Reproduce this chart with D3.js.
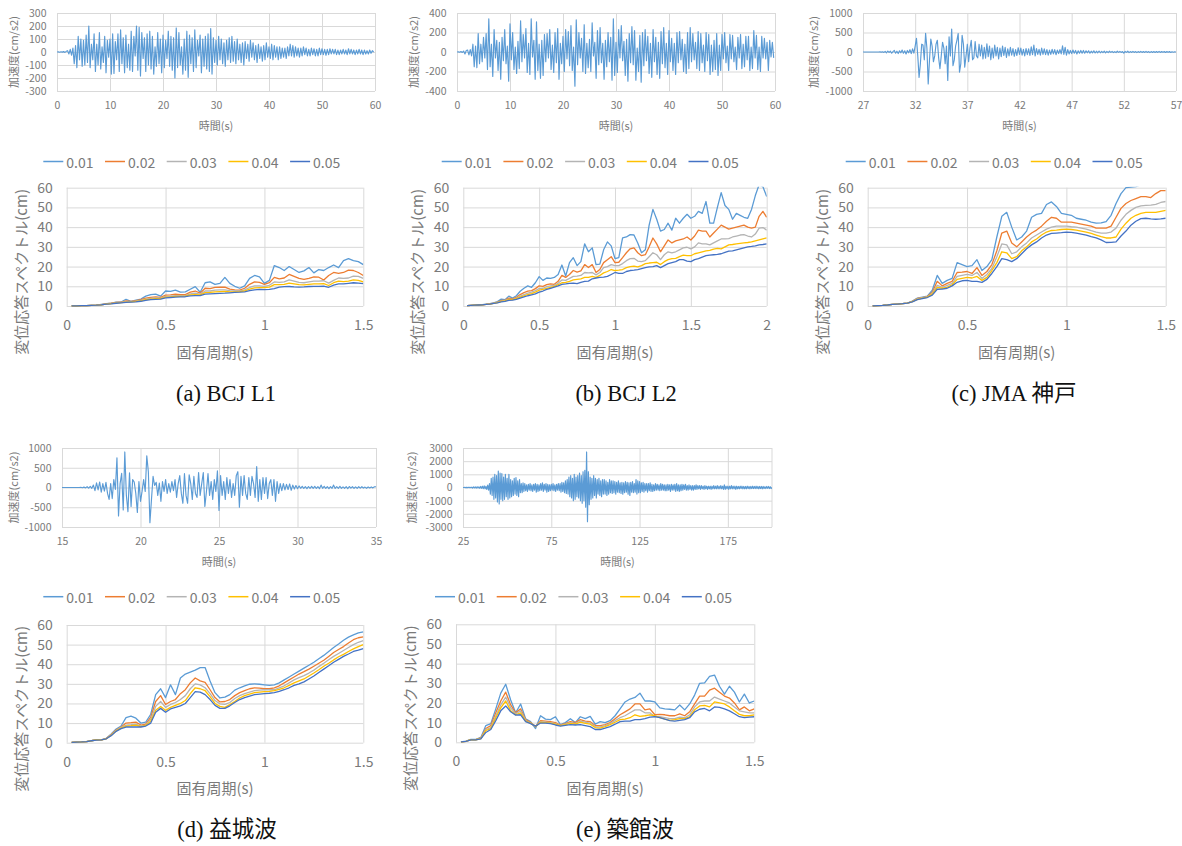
<!DOCTYPE html>
<html>
<head>
<meta charset="utf-8">
<script src="https://cdn.jsdelivr.net/npm/d3@7"></script>
<style>
  body { margin: 0; background: #fff; }
  svg text { font-family: "Noto Sans CJK JP", "Noto Sans", sans-serif; fill: #7a7a7a; }
  svg text.caption { font-family: "Liberation Serif", "Noto Sans CJK JP", serif; fill: #111; font-size: 22.5px; }
</style>
</head>
<body>
<svg id="fig" width="1182" height="846"></svg>
<script>
// ---------------- labels ----------------
const dampingLabels = ["0.01", "0.02", "0.03", "0.04", "0.05"];
const dampingColors = ["#5b9bd5", "#ed7d31", "#b4b4b4", "#ffc000", "#4472c4"];
const captions = ["(a) BCJ L1", "(b) BCJ L2", "(c) JMA 神戸", "(d) 益城波", "(e) 築館波"];
const accelTitle = "加速度(cm/s2)";
const timeTitle = "時間(s)";
const specTitle = "変位応答スペクトル(cm)";
const periodTitle = "固有周期(s)";

// ---------------- acceleration records (cm/s2) ----------------
// BCJ L1, sampled every 0.25 s from 0 s
const accelA_t0 = 0, accelA_dt = 0.25;
const accelA = [
  0,1,-2,2,-1,3,-3,5,
  10,-15,20,-25, 30,-90,50,-120, 120,-60,100,-110, 90,-100,130,-80,
  200,-120,60,-60, 140,-150,60,-100, 150,-130,40,-80, 120,-160,90,-40,
  100,-170,140,-165, 80,-60,140,-150, 170,-90,110,-160, 130,-120,60,-140,
  160,-150,120,-30, 200,-140,190,-185, 150,-50,110,-150, 140,-100,160,-130,
  120,-170,40,-110, 150,-90,100,-160, 130,-120,90,-50, 160,-110,120,-140,
  110,-200,185,-120, 150,-100,40,-170, 100,-140,160,-195, 130,-90,110,-150,
  170,-120,90,-30, 130,-160,100,-110, 120,-130,140,-150, 180,-170,110,-80,
  90,-100,120,-60, 100,-90,70,-110, 90,-60,110,-80, 120,-70,80,-90,
  100,-60,60,-80, 70,-100,80,-50, 60,-70,90,-40, 70,-60,50,-80,
  60,-50,40,-70, 50,-60,70,-40, 40,-50,60,-60, 50,-40,40,-60,
  40,-50,30,-40, 30,-50,40,-30, 60,-30,50,-40, 40,-30,30,-40,
  30,-30,40,-20, 30,-30,20,-30, 30,-20,25,-30, 20,-30,30,-20,
  25,-20,20,-25, 20,-20,25,-15, 20,-15,20,-20, 15,-20,15,-15,
  20,-15,15,-20, 25,-15,20,-15, 15,-20,15,-15, 20,-15,15,-20,
  15,-15,10,-15, 15,-10,10,0
];

// BCJ L2, sampled every 0.25 s from 0 s
const accelB_t0 = 0, accelB_dt = 0.25;
const accelB = [
  0,2,-3,5,-5,10,-20,15,
  20,-30,25,-40, 80,-150,60,-160, 190,-120,80,-100, 150,-60,190,-180,
  340,-150,80,-250, 230,-60,120,-190, 100,-280,150,-90, 230,-120,60,-300,
  290,-80,200,-180, 50,-220,110,-170, 320,-100,180,-60, 240,-210,90,-230,
  340,-50,120,-280, 310,-190,80,-270, 120,-240,180,-100, 190,-60,230,-180,
  70,-210,200,-110, 240,-280,90,-120, 160,-200,230,-70, 210,-140,270,-190,
  50,-350,330,-130, 200,-60,140,-200, 280,-220,90,-160, 130,-200,300,-40,
  100,-270,220,-130, 250,-110,90,-280, 120,-150,200,-100, 150,-290,340,-240,
  100,-210,230,-60, 270,-90,110,-240, 130,-300,190,-110, 260,-130,220,-290,
  40,-200,170,-310, 200,-140,230,-90, 160,-220,90,-260, 230,-100,150,-230,
  100,-270,210,-120, 250,-160,90,-230, 220,-100,140,-190, 90,-230,200,-110,
  210,-80,130,-200, 80,-220,200,-170, 250,-100,190,-80, 100,-170,210,-190,
  190,-110,70,-200, 200,-90,180,-230, 70,-200,120,-180, 190,-240,70,-190,
  180,-70,200,-110, 60,-190,180,-70, 170,-100,50,-180, 150,-60,180,-170,
  80,-150,160,-80, 160,-190,50,-170, 220,-60,170,-180, 50,-200,160,-60,
  140,-70,100,-190, 120,-50,100,-60
];

// JMA Kobe, sampled every 0.125 s from 27 s
const accelC_t0 = 27, accelC_dt = 0.125;
const accelC = [
  0,0,0,0,0,0,0,0,0,0,0,0,0,2,-3,4,
  -10,15,-20,25,-10,20,-30,10,
  40,-30,20,-40,30,-20,50,-30,
  30,-50,40,-20,60,-40,80,-30,
  150,350,-100,-650,-300,200,180,-200,
  480,100,-820,-200,330,150,-250,-100,
  200,300,-150,-430,-100,250,100,-300,
  150,-730,390,-100,590,-350,-200,150,
  300,475,-520,-300,430,200,-390,-100,
  200,-250,100,300,-200,-150,270,-100,
  -150,200,-100,180,-180,120,-160,210,
  -120,150,-200,100,-150,180,-100,120,
  -180,100,-120,150,-90,120,-140,80,
  -100,120,-80,90,-110,60,-90,110,
  -60,100,-80,70,-100,90,-70,80,
  -90,130,-70,180,-100,90,-60,70,
  -80,100,-60,80,-70,60,-80,50,
  -60,70,-50,60,-70,50,-40,60,
  -50,160,-60,120,-80,60,-50,40,
  -40,50,-30,40,-50,30,-30,40,
  -30,40,-30,30,-20,30,-30,20,
  -20,30,-25,20,-20,25,-20,15,
  -15,20,-20,15,-15,20,-10,15,
  -15,10,-15,20,-10,15,-10,10,
  -30,15,-10,20,-15,10,-10,15,
  -10,10,-15,10,-10,15,-10,10,
  -10,15,-10,10,-15,10,-10,10,
  -10,10,-10,15,-10,10,-5,10,
  -10,10,-5,10,-10,5,-5,5,
  0
];

// Mashiki, sampled every 0.1 s from 15 s
const accelD_t0 = 15, accelD_dt = 0.1;
const accelD = [
  0,0,0,0,0,0,0,0,0,0,
  0,0,5,-5,10,-10,20,-15,30,-20,
  60,-80,120,-60,140,-120,100,-90,130,-150,
  -300,100,-280,200,-50,750,-720,100,360,-570,
  900,-200,-610,370,-480,200,140,-150,-630,150,
  -350,-100,200,-100,800,400,-890,-300,280,50,
  130,-200,110,-350,150,-100,200,-150,100,-120,
  150,-80,200,-250,100,300,-150,-400,350,-200,
  -400,320,100,-300,280,-150,-250,380,-200,100,
  380,-480,-100,350,-200,150,-300,200,-100,420,
  -580,300,-200,150,-300,250,-150,200,-250,100,
  -200,300,400,-500,280,-200,300,-150,-300,250,
  -200,280,100,-250,530,-350,200,-300,250,-150,
  250,-280,100,200,-200,200,-350,150,-150,100,
  -80,100,-60,80,-50,90,-70,60,-40,50,
  -30,40,-20,30,-25,20,-30,25,-20,30,
  -20,30,-25,20,-30,60,-20,30,-25,20,
  -30,20,-20,60,-25,20,-20,30,-20,15,
  -20,20,-30,25,-15,20,-20,15,-20,20,
  -15,20,-15,10,-20,15,-10,15,-10,20,
  20
];

// Tsukidate, sampled every 0.5 s from 25 s
const accelE_t0 = 25, accelE_dt = 0.5;
const accelE = [
  0,0,5,-5,10,-10,15,-10,20,-20,
  30,-40,50,-30,40,-50,60,-40,50,-60,
  80,-60,100,-90,120,-100,90,-150,180,-200,
  300,-500,700,-600,800,-900,1000,-800,900,-1100,
  1250,-1250,1100,-900,1050,-1000,800,-900,1000,-700,
  700,-900,1000,-800,600,-700,500,-600,700,-500,
  750,-600,500,-700,600,-400,300,-400,350,-300,
  300,-250,200,-300,250,-200,300,-250,200,-300,
  250,-200,300,-350,250,-300,200,-250,300,-200,
  350,-300,250,-200,300,-350,250,-300,200,-250,
  250,-200,300,-250,200,-300,250,-200,300,-250,
  300,-350,400,-300,350,-400,500,-450,600,-500,
  800,-700,900,-800,700,-1000,1000,-900,800,-700,
  900,-800,1100,-1000,900,-1200,1200,-1000,1300,-1500,
  2700,-2600,1200,-1300,800,-900,700,-800,900,-600,
  700,-800,600,-500,700,-600,500,-700,600,-500,
  600,-500,500,-600,400,-500,600,-400,500,-450,
  500,-400,450,-500,400,-350,500,-400,350,-450,
  400,-500,350,-400,450,-350,400,-500,350,-600,
  400,-350,450,-400,300,-350,600,-500,500,-400,
  450,-400,350,-300,400,-350,300,-250,300,-350,
  300,-250,350,-300,250,-300,200,-250,300,-200,
  250,-200,200,-250,300,-200,250,-200,200,-250,
  200,-250,250,-200,200,-300,250,-200,200,-200,
  250,-300,300,-250,200,-300,200,-250,250,-200,
  200,-150,250,-200,150,-200,200,-150,150,-200,
  150,-200,150,-150,200,-150,150,-100,150,-150,
  150,-100,100,-150,150,-100,100,-150,100,-100,
  100,-150,100,-100,150,-100,100,-100,150,-100,
  100,-100,150,-100,100,-150,200,-150,100,-100,
  100,-150,100,-100,150,-100,100,-100,100,-150,
  100,-100,80,-100,100,-80,100,-100,80,-100,
  80,-100,100,-80,80,-100,80,-80,100,-80,
  80,-80,100,-80,80,-100,80,-80,80,-100,
  80,-80,60,-80,80,-60,80,-80,60,-80,
  0
];

// ---------------- displacement response spectra (cm) ----------------
// periods run 0.025, 0.050, ... in steps of 0.025 s
const periodStep = 0.025;

// BCJ L1 (0.025 - 1.5 s)
const specA_h01 = [0.1,0.1,0.2,0.2,0.3,0.4,0.8,1.2,1.5,2.0, 2.0,3.4,2.4,3.0,3.5,5.0,5.8,6.0,5.0,7.6, 7.4,8.0,7.0,7.2,8.5,9.8,7.0,11.8,12.2,11.0, 11.5,14.5,11.5,10.0,9.0,10.2,14.0,15.5,14.8,11.5, 13.0,20.5,19.5,18.0,20.0,18.5,17.0,17.8,19.5,16.8, 18.5,18.0,19.5,20.8,19.5,23.0,24.0,23.0,22.5,21.0];
const specA_h02 = [0.1,0.1,0.2,0.2,0.3,0.4,0.7,1.1,1.4,1.8, 1.9,2.6,2.3,2.7,3.2,4.0,4.4,4.6,4.4,5.5, 5.6,6.0,5.7,5.8,7.0,7.6,6.5,9.0,8.8,9.4, 9.5,9.6,8.6,8.2,8.0,9.0,11.0,12.2,12.0,11.0, 11.8,14.5,13.8,14.2,16.0,15.0,14.0,13.5,14.0,14.8, 14.6,13.2,15.5,17.0,16.5,17.0,18.2,18.0,17.0,15.5];
const specA_h03 = [0.1,0.1,0.2,0.2,0.3,0.4,0.6,1.0,1.3,1.6, 1.8,2.2,2.2,2.5,2.9,3.5,3.9,4.1,4.0,4.9, 5.0,5.3,5.2,5.3,6.2,6.5,6.0,7.6,7.6,8.0, 8.2,8.2,7.8,7.6,7.6,8.2,9.4,10.2,10.2,10.0, 10.5,12.2,12.0,12.2,13.2,12.6,12.0,11.8,12.2,12.6, 12.6,12.8,11.6,13.0,14.2,14.0,14.2,15.2,15.0,14.0];
const specA_h04 = [0.1,0.1,0.2,0.2,0.3,0.4,0.6,0.9,1.2,1.5, 1.7,2.0,2.1,2.3,2.6,3.2,3.5,3.7,3.7,4.5, 4.6,4.9,4.9,5.0,5.6,5.8,5.6,6.8,6.9,7.2, 7.3,7.4,7.2,7.2,7.3,7.6,8.6,9.2,9.3,9.3, 9.6,10.8,10.8,11.0,11.6,11.2,10.8,10.7,11.0,11.2, 11.2,11.4,10.4,11.8,12.6,12.4,12.6,13.2,13.0,12.2];
const specA_h05 = [0.1,0.1,0.2,0.2,0.3,0.4,0.6,0.9,1.1,1.4, 1.6,1.8,2.0,2.1,2.4,2.9,3.2,3.4,3.5,4.1, 4.3,4.5,4.6,4.7,5.1,5.3,5.3,6.0,6.2,6.3, 6.4,6.5,6.7,6.9,7.0,7.2,7.8,8.2,8.4,8.3, 8.4,8.8,9.6,9.8,9.9,9.7,9.6,9.7,9.9,10.0, 10.0,10.1,9.5,10.6,11.2,11.2,11.5,11.8,11.6,11.4];

// BCJ L2 (0.025 - 2.0 s)
const specB_h01 = [0.2,0.3,0.4,0.5,0.7,0.9,1.2,1.6,2.2,3.5, 3.2,5.0,4.0,5.2,7.5,9.0,10.2,9.5,11.8,14.9, 13.0,14.2,14.0,14.5,16.0,20.8,15.2,22.0,24.5,20.5, 22.5,31.5,27.5,29.5,21.0,21.2,28.5,32.5,30.5,24.0, 24.5,34.5,35.0,36.2,36.0,32.0,27.0,28.5,41.0,49.0, 44.0,38.0,38.8,42.0,38.5,44.5,42.0,44.5,46.5,44.5, 45.5,48.0,47.0,53.0,42.0,42.0,50.0,57.5,51.0,49.0, 44.0,47.0,46.0,45.0,44.5,49.0,56.0,61.5,60.5,55.5];
const specB_h02 = [0.2,0.3,0.4,0.5,0.6,0.8,1.1,1.5,2.0,2.8, 3.0,4.0,3.6,4.4,5.8,6.8,7.5,7.8,8.8,10.2, 10.0,10.8,11.2,11.0,12.5,15.5,14.5,16.0,18.0,17.2, 17.8,21.0,19.5,21.0,17.0,18.5,22.0,23.5,25.0,22.0, 22.2,24.5,27.0,29.0,29.5,27.0,25.5,26.0,30.0,34.5, 31.5,27.5,30.5,33.5,32.0,33.0,33.5,34.0,35.0,33.5, 35.5,38.5,38.0,38.0,35.0,37.0,39.0,41.0,40.0,39.0, 39.5,40.0,40.5,41.0,40.0,39.5,40.0,45.5,48.0,45.0];
const specB_h03 = [0.2,0.3,0.4,0.5,0.6,0.8,1.0,1.4,1.9,2.5, 2.8,3.5,3.4,4.0,5.0,5.8,6.5,7.0,7.8,8.8, 9.0,9.8,10.2,10.5,11.5,13.2,13.0,14.0,15.0,15.2, 15.5,17.0,16.8,17.0,15.8,17.0,19.5,20.0,21.0,20.5, 20.5,21.5,23.0,24.0,24.2,22.8,22.5,23.0,25.0,27.0, 26.0,23.5,26.0,27.5,27.0,27.5,28.5,29.5,29.8,29.0, 30.0,32.0,31.5,31.5,31.0,32.0,33.0,34.0,34.0,34.2, 35.0,35.5,36.0,36.2,35.5,35.0,36.5,39.5,39.8,38.5];
const specB_h04 = [0.2,0.3,0.4,0.5,0.6,0.8,1.0,1.3,1.7,2.3, 2.6,3.2,3.2,3.7,4.5,5.2,5.8,6.3,7.0,8.0, 8.4,9.0,9.5,10.0,10.8,11.8,12.0,12.5,13.2,13.5, 13.8,14.5,14.5,15.0,14.5,15.5,16.8,17.5,18.5,18.0, 18.2,18.5,19.5,20.0,20.2,19.8,20.5,21.5,21.8,22.0, 22.2,21.0,22.5,23.5,24.0,24.2,25.0,25.8,25.5,25.5, 26.5,27.0,27.5,28.0,28.2,28.8,29.2,29.0,30.0,31.0, 31.2,31.5,31.8,32.0,32.2,32.5,33.0,33.5,34.0,34.5];
const specB_h05 = [0.2,0.3,0.4,0.5,0.6,0.8,1.0,1.3,1.6,2.1, 2.4,2.9,3.0,3.4,4.0,4.6,5.2,5.7,6.2,7.0, 7.6,8.4,9.0,9.6,10.2,11.0,11.2,11.5,11.6,11.4, 12.0,12.5,12.6,13.8,14.2,14.5,14.6,15.0,16.0,17.0, 16.5,16.5,17.5,18.0,18.2,18.5,19.0,19.5,19.8,20.0, 20.5,19.5,20.5,21.5,22.0,22.5,23.5,23.5,22.8,22.5, 23.5,24.0,24.8,25.5,25.8,26.0,26.2,26.5,27.2,27.8, 28.0,28.5,29.0,29.5,30.0,30.2,30.5,31.0,31.2,31.5];

// JMA Kobe (0.025 - 1.5 s)
const specC_h01 = [0.1,0.2,0.3,0.5,0.8,1.0,1.2,1.5,2.5,4.0, 4.5,5.0,8.0,15.5,11.5,13.0,14.0,22.0,21.0,20.0, 20.5,23.5,18.0,20.0,23.5,35.0,45.5,47.5,40.0,33.5, 35.0,38.0,45.0,46.5,47.0,51.5,52.8,50.5,47.0,46.5, 46.0,44.5,44.0,43.5,42.5,42.0,42.2,42.8,46.0,52.0, 57.0,60.0,60.3,60.5,61.5,62.5,63.0,63.5,64.0,64.0];
const specC_h02 = [0.1,0.2,0.3,0.5,0.8,1.0,1.2,1.5,2.4,3.8, 4.3,4.8,7.0,12.5,10.2,11.5,12.5,17.0,17.2,17.5, 16.5,19.5,15.5,17.5,21.0,28.0,37.0,38.0,32.0,30.0, 32.5,35.0,37.0,38.5,40.5,43.0,45.0,44.5,42.5,42.5, 42.5,42.0,41.5,41.0,40.5,39.5,39.5,39.5,40.5,45.0, 49.5,52.0,53.5,54.5,55.5,55.5,55.0,57.0,58.5,58.5];
const specC_h03 = [0.1,0.2,0.3,0.5,0.8,1.0,1.2,1.5,2.3,3.6, 4.2,4.6,6.5,10.5,9.5,10.5,11.5,15.0,15.5,16.0, 15.5,17.0,14.0,16.0,19.0,25.0,31.5,31.0,26.5,27.5, 30.0,32.0,34.5,36.0,37.5,39.0,40.0,40.5,40.5,40.5, 40.2,40.0,39.5,39.0,38.2,37.5,37.0,37.0,37.5,39.5, 43.5,46.5,48.5,50.0,50.8,51.0,51.2,51.5,52.5,53.0];
const specC_h04 = [0.1,0.2,0.3,0.5,0.8,1.0,1.2,1.5,2.2,3.4, 4.0,4.5,6.0,9.5,9.0,9.5,10.8,13.5,14.0,14.5, 14.2,15.0,13.0,14.5,18.0,22.0,27.5,27.0,24.0,25.0, 28.0,30.0,32.5,34.0,36.0,37.5,38.3,38.5,38.8,39.0, 38.8,38.5,38.0,37.5,36.8,36.0,35.2,34.5,34.5,35.0, 39.0,42.0,44.5,46.0,47.0,47.5,47.5,47.5,48.0,48.5];
const specC_h05 = [0.1,0.2,0.3,0.5,0.8,1.0,1.2,1.5,2.1,3.2, 3.8,4.3,5.5,8.5,8.6,9.0,10.2,12.0,12.8,13.0, 12.5,12.5,12.0,13.5,16.5,20.0,24.0,23.5,22.5,24.0, 26.5,29.0,31.0,32.5,34.5,36.0,36.8,37.0,37.2,37.5, 37.3,37.0,36.5,36.0,35.2,34.5,33.5,32.2,32.3,32.5, 35.5,38.0,41.0,43.0,44.3,44.5,44.2,44.0,44.2,44.5];

// Mashiki (0.025 - 1.5 s)
const specD_h01 = [0.2,0.3,0.4,0.6,1.0,1.5,1.5,2.2,4.5,7.0, 8.5,12.8,13.5,12.5,10.0,10.5,14.5,24.5,27.5,23.0, 29.5,24.5,33.0,35.0,36.0,37.0,38.3,38.3,31.5,25.5, 22.8,23.2,24.5,26.8,28.0,29.0,29.8,30.0,29.8,29.5, 29.2,29.5,30.5,32.0,33.5,35.0,36.5,38.0,39.5,41.0, 42.8,44.5,46.5,48.5,50.3,52.2,53.8,55.0,56.0,56.5];
const specD_h02 = [0.2,0.3,0.4,0.6,1.0,1.4,1.4,2.1,4.2,6.5, 8.0,10.0,10.2,10.5,9.0,9.5,13.0,21.0,24.0,19.5, 21.0,22.0,25.0,27.0,30.5,33.0,31.5,30.8,27.0,23.0, 20.8,21.0,22.0,24.0,25.5,26.5,27.5,28.0,27.8,27.5, 27.5,28.0,29.0,30.5,32.0,33.5,35.0,36.2,37.5,39.0, 40.5,42.0,44.0,46.0,47.5,49.0,50.8,52.5,53.5,54.0];
const specD_h03 = [0.2,0.3,0.4,0.6,1.0,1.4,1.4,2.0,4.0,6.2, 7.8,9.0,9.2,9.5,8.5,9.0,12.0,18.5,21.0,18.0, 19.5,20.5,22.0,24.0,27.5,30.0,29.5,28.0,25.0,21.5, 19.8,19.5,20.5,22.5,24.0,25.0,25.8,26.5,26.8,27.0, 27.0,27.0,28.0,29.0,30.5,32.0,33.2,34.2,35.5,37.0, 38.8,40.5,42.3,44.0,45.5,47.0,48.5,50.0,51.2,52.0];
const specD_h04 = [0.2,0.3,0.4,0.6,1.0,1.4,1.4,2.0,3.8,6.0, 7.5,8.5,8.7,9.0,8.2,8.8,11.0,16.5,18.5,16.5, 18.0,19.0,20.0,21.5,25.0,28.0,27.5,26.5,23.5,20.0, 18.5,18.0,19.5,21.0,22.8,24.0,24.8,25.5,25.8,26.0, 26.2,26.5,27.2,28.0,29.2,30.5,31.5,32.5,34.0,35.5, 37.2,39.0,40.5,42.2,43.8,45.0,46.5,47.8,49.0,50.0];
const specD_h05 = [0.2,0.3,0.4,0.6,1.0,1.3,1.4,2.0,3.6,5.8, 7.2,8.0,8.0,8.0,8.0,8.5,10.0,15.5,17.5,15.5, 17.2,18.0,18.8,20.0,23.0,26.0,25.8,24.5,22.0,19.0, 17.5,17.5,18.8,20.5,22.0,23.0,23.8,24.5,24.8,25.0, 25.2,25.5,26.2,27.0,28.0,29.2,30.0,31.0,32.5,34.0, 35.8,37.5,39.2,41.0,42.5,44.0,45.2,46.5,47.2,48.0];

// Tsukidate (0.025 - 1.5 s)
const specE_h01 = [0.2,0.6,1.5,1.5,2.5,8.5,9.5,17.0,25.0,29.5, 21.5,15.0,19.5,12.0,10.5,7.0,13.5,11.8,11.5,13.0, 9.0,10.0,12.0,10.0,13.0,12.0,13.2,9.2,10.5,10.0, 11.0,13.5,17.0,20.5,22.0,22.8,25.0,21.0,21.0,20.5, 17.5,17.0,16.8,16.5,19.0,16.5,19.5,24.0,30.0,30.2, 33.5,34.2,28.5,24.5,28.5,25.5,20.5,24.5,20.0,21.0];
const specE_h02 = [0.2,0.5,1.4,1.4,2.2,7.0,8.5,15.0,21.0,25.5, 19.0,15.0,17.0,11.5,10.0,8.0,11.0,10.8,10.5,10.0, 8.8,9.5,10.5,10.0,11.5,10.8,10.5,8.5,8.5,9.0, 10.0,12.0,14.0,15.5,17.0,19.5,19.5,16.5,17.0,14.0, 14.2,14.0,13.5,13.5,14.5,13.5,15.5,19.5,23.5,23.5, 26.5,27.5,25.5,23.5,22.5,20.0,16.5,18.0,16.0,17.0];
const specE_h03 = [0.2,0.5,1.3,1.3,2.0,6.5,7.5,13.5,19.0,23.0, 17.5,14.5,16.0,11.0,9.8,8.0,10.5,10.2,10.0,9.5, 8.6,9.2,10.0,9.5,10.8,10.2,9.8,8.0,7.8,8.5, 9.5,11.0,12.5,13.5,15.0,16.5,16.5,15.0,15.0,13.0, 13.0,12.5,12.0,12.0,12.8,12.5,14.0,18.0,20.5,21.0, 21.0,23.0,22.0,21.0,20.0,18.0,16.0,15.5,15.0,15.0];
const specE_h04 = [0.2,0.5,1.3,1.3,1.9,6.0,7.0,12.5,17.5,21.0, 16.0,14.0,15.0,10.8,9.8,8.0,10.2,10.0,9.8,9.2, 8.5,9.0,9.6,9.2,10.2,9.6,9.2,7.5,7.2,8.0, 9.0,10.2,11.5,11.8,12.5,14.0,13.2,13.5,14.0,13.5, 12.5,11.8,11.2,11.5,12.0,12.0,13.0,16.5,18.5,18.8, 18.0,20.5,20.0,19.5,18.0,16.0,14.2,13.5,13.5,14.0];
const specE_h05 = [0.2,0.5,1.2,1.2,1.8,5.0,6.5,11.0,16.0,18.5, 15.5,13.8,14.0,10.5,9.5,8.2,9.8,9.8,9.5,8.8, 8.2,8.6,9.0,8.8,9.0,8.5,8.0,6.5,6.5,7.2, 8.0,9.2,10.5,10.8,10.8,11.5,11.5,12.0,12.8,13.0, 12.5,11.8,11.0,10.8,11.2,11.5,12.5,15.5,16.8,17.2, 16.0,18.0,17.8,17.0,16.0,14.5,13.0,12.5,12.8,13.0];

// ---------------- axis ticks ----------------
const ticksA_t = [0, 10, 20, 30, 40, 50, 60], ticksA_a = [-300, -200, -100, 0, 100, 200, 300];
const ticksB_t = [0, 10, 20, 30, 40, 50, 60], ticksB_a = [-400, -200, 0, 200, 400];
const ticksC_t = [27, 32, 37, 42, 47, 52, 57], ticksC_a = [-1000, -500, 0, 500, 1000];
const ticksD_t = [15, 20, 25, 30, 35], ticksD_a = [-1000, -500, 0, 500, 1000];
const ticksE_t = [25, 75, 125, 175], ticksE_a = [-3000, -2000, -1000, 0, 1000, 2000, 3000];
const ticksSpec_cm = [0, 10, 20, 30, 40, 50, 60];
const ticksPeriod15 = [0, 0.5, 1, 1.5];
const ticksPeriod20 = [0, 0.5, 1, 1.5, 2];

// ---------------- drawing ----------------
const svg = d3.select("#fig");
const gridColor = "#d9d9d9";
let clipId = 0;

function styleGrid(sel) {
  sel.select(".domain").remove();
  sel.selectAll(".tick line").attr("stroke", gridColor).attr("stroke-width", 1);
}

function makeClip(x, y, w, h) {
  const id = "clip" + (clipId++);
  svg.append("clipPath").attr("id", id)
    .append("rect").attr("x", x).attr("y", y - 1).attr("width", w).attr("height", h + 2);
  return "url(#" + id + ")";
}

function accelPanel(o) {
  const g = svg.append("g");
  const x = d3.scaleLinear().domain(o.xDomain).range([o.left, o.right]);
  const y = d3.scaleLinear().domain(o.yDomain).range([o.bottom, o.top]);
  const h = o.bottom - o.top, w = o.right - o.left;
  const fs = 10.5;

  const gy = g.append("g").attr("transform", `translate(${o.left},0)`)
    .call(d3.axisLeft(y).tickValues(o.yTicks).tickSize(-w).tickPadding(10.5).tickFormat(d => String(d)));
  styleGrid(gy);
  gy.selectAll("text").attr("font-size", fs);

  const gx = g.append("g").attr("transform", `translate(0,${o.bottom})`)
    .call(d3.axisBottom(x).tickValues(o.xTicks).tickSize(-h).tickPadding(11).tickFormat(d => String(d)));
  styleGrid(gx);
  gx.selectAll("text").attr("font-size", fs);

  if (o.rightEdge) {
    g.append("line").attr("x1", x(o.xDomain[1])).attr("x2", x(o.xDomain[1]))
      .attr("y1", o.top).attr("y2", o.bottom).attr("stroke", gridColor);
  }

  const line = d3.line()
    .x((d, i) => x(o.t0 + i * o.dt))
    .y(d => y(d));
  g.append("path").datum(o.values)
    .attr("clip-path", makeClip(o.left, o.top, w, h))
    .attr("d", line).attr("fill", "none")
    .attr("stroke", "#5b9bd5").attr("stroke-width", 1.15).attr("stroke-linejoin", "round");

  g.append("text").attr("x", (o.left + o.right) / 2).attr("y", o.bottom + 34)
    .attr("text-anchor", "middle").attr("dominant-baseline", "central")
    .attr("font-size", 11).text(timeTitle);
  g.append("text")
    .attr("transform", `translate(${o.left - o.titleOffset},${(o.top + o.bottom) / 2}) rotate(-90)`)
    .attr("text-anchor", "middle").attr("dominant-baseline", "central")
    .attr("font-size", 11).text(accelTitle);
}

function spectrumPanel(o) {
  const g = svg.append("g");
  const x = d3.scaleLinear().domain([0, o.xMax]).range([o.left, o.right]);
  const y = d3.scaleLinear().domain([0, 60]).range([o.bottom, o.top]);
  const h = o.bottom - o.top, w = o.right - o.left;
  const fmt = d3.format("~g");

  // legend
  const lg = g.append("g");
  dampingLabels.forEach((lab, i) => {
    const lx = o.legendX + i * 61.7;
    lg.append("line").attr("x1", lx).attr("x2", lx + 20)
      .attr("y1", o.legendY).attr("y2", o.legendY)
      .attr("stroke", dampingColors[i]).attr("stroke-width", 1.5);
    lg.append("text").attr("x", lx + 23).attr("y", o.legendY)
      .attr("dominant-baseline", "central").attr("font-size", 14).text(lab);
  });

  const gy = g.append("g").attr("transform", `translate(${o.left},0)`)
    .call(d3.axisLeft(y).tickValues(ticksSpec_cm).tickSize(-w).tickPadding(14).tickFormat(d => String(d)));
  styleGrid(gy);
  gy.selectAll("text").attr("font-size", 14);

  const gx = g.append("g").attr("transform", `translate(0,${o.bottom})`)
    .call(d3.axisBottom(x).tickValues(o.xTicks).tickSize(-h).tickPadding(14).tickFormat(fmt));
  styleGrid(gx);
  gx.selectAll("text").attr("font-size", 14);

  const clip = makeClip(o.left, o.top, w, h);
  const line = d3.line()
    .x((d, i) => x((i + 1) * periodStep))
    .y(d => y(d));
  o.series.forEach((vals, i) => {
    g.append("path").datum(vals)
      .attr("clip-path", clip)
      .attr("d", line).attr("fill", "none")
      .attr("stroke", dampingColors[i]).attr("stroke-width", 1.3)
      .attr("stroke-linejoin", "round");
  });

  g.append("text").attr("x", (o.left + o.right) / 2).attr("y", o.bottom + 45)
    .attr("text-anchor", "middle").attr("dominant-baseline", "central")
    .attr("font-size", 15).text(periodTitle);
  g.append("text")
    .attr("transform", `translate(${o.left - 46.5},${(o.top + o.bottom) / 2 + 25}) rotate(-90)`)
    .attr("text-anchor", "middle").attr("dominant-baseline", "central")
    .attr("font-size", 15).text(specTitle);

  svg.append("text").attr("class", "caption")
    .attr("x", o.captionX).attr("y", o.captionY)
    .attr("text-anchor", "middle").attr("dominant-baseline", "central")
    .text(o.caption);
}

// top row: acceleration records
accelPanel({ left: 57, right: 375, top: 13, bottom: 91, xDomain: [0, 60], xTicks: ticksA_t,
  yDomain: [-300, 300], yTicks: ticksA_a, values: accelA, t0: accelA_t0, dt: accelA_dt, titleOffset: 44 });
accelPanel({ left: 457, right: 775, top: 13, bottom: 91, xDomain: [0, 60], xTicks: ticksB_t,
  yDomain: [-400, 400], yTicks: ticksB_a, values: accelB, t0: accelB_t0, dt: accelB_dt, titleOffset: 44 });
accelPanel({ left: 863, right: 1176, top: 13, bottom: 91, xDomain: [27, 57], xTicks: ticksC_t,
  yDomain: [-1000, 1000], yTicks: ticksC_a, values: accelC, t0: accelC_t0, dt: accelC_dt, titleOffset: 50 });
accelPanel({ left: 62, right: 376, top: 448, bottom: 527, xDomain: [15, 35], xTicks: ticksD_t,
  yDomain: [-1000, 1000], yTicks: ticksD_a, values: accelD, t0: accelD_t0, dt: accelD_dt, titleOffset: 49 });
accelPanel({ left: 463, right: 772, top: 448, bottom: 527, xDomain: [25, 200], xTicks: ticksE_t,
  yDomain: [-3000, 3000], yTicks: ticksE_a, values: accelE, t0: accelE_t0, dt: accelE_dt, titleOffset: 52, rightEdge: true });

// spectra
spectrumPanel({ left: 66.7, right: 363.3, top: 187.7, bottom: 306, xMax: 1.5, xTicks: ticksPeriod15,
  series: [specA_h01, specA_h02, specA_h03, specA_h04, specA_h05],
  legendX: 43.3, legendY: 161.5, caption: captions[0], captionX: 226, captionY: 393 });
spectrumPanel({ left: 463.3, right: 766.7, top: 187.7, bottom: 306, xMax: 2, xTicks: ticksPeriod20,
  series: [specB_h01, specB_h02, specB_h03, specB_h04, specB_h05],
  legendX: 441.7, legendY: 161.5, caption: captions[1], captionX: 626, captionY: 393 });
spectrumPanel({ left: 867.7, right: 1165.7, top: 187.7, bottom: 306, xMax: 1.5, xTicks: ticksPeriod15,
  series: [specC_h01, specC_h02, specC_h03, specC_h04, specC_h05],
  legendX: 845.7, legendY: 161.5, caption: captions[2], captionX: 1014, captionY: 393 });
spectrumPanel({ left: 66.7, right: 363.3, top: 625, bottom: 742.7, xMax: 1.5, xTicks: ticksPeriod15,
  series: [specD_h01, specD_h02, specD_h03, specD_h04, specD_h05],
  legendX: 43.3, legendY: 596.7, caption: captions[3], captionX: 227, captionY: 829 });
spectrumPanel({ left: 456, right: 754.3, top: 624.3, bottom: 742.3, xMax: 1.5, xTicks: ticksPeriod15,
  series: [specE_h01, specE_h02, specE_h03, specE_h04, specE_h05],
  legendX: 435, legendY: 596.7, caption: captions[4], captionX: 625, captionY: 829 });
</script>
</body>
</html>
